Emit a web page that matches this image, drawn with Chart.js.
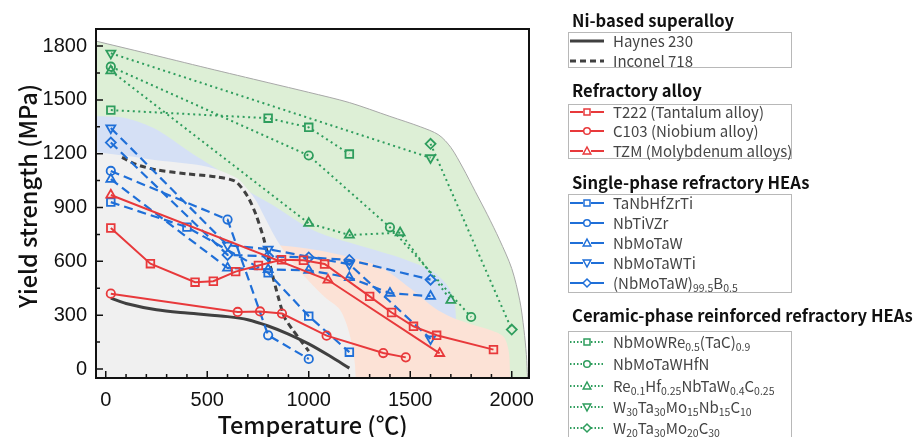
<!DOCTYPE html>
<html>
<head>
<meta charset="utf-8">
<script src="https://cdn.jsdelivr.net/npm/chart.js@4.4.1/dist/chart.umd.min.js"></script>
<style>
  body { margin: 0; background: #fff; }
  #wrap { position: relative; width: 915px; height: 437px; overflow: hidden; }
  #chart { position: absolute; left: 0; top: 0; }
  .ttl { position: absolute; left: 572px; font: bold 16.6px "Noto Sans CJK SC", "Noto Sans", sans-serif; color: #111; white-space: nowrap; line-height: 20px; }
  .box { position: absolute; left: 568px; width: 224px; border: 1px solid #b8b8b8; box-sizing: border-box; }
  .row { position: absolute; left: 613px; font: 15px "Noto Sans CJK SC", "Noto Sans", sans-serif; color: #454545; white-space: nowrap; line-height: 18px; }
  .row sub { font-size: 10.5px; vertical-align: -3px; line-height: 0; }
  .smp { position: absolute; left: 569px; }
</style>
</head>
<body>
<div id="wrap">
  <canvas id="chart" width="915" height="437"></canvas>
  <div id="legend"></div>
</div>
<script>
// axis ticks
const xTicks = [0, 500, 1000, 1500, 2000];
const yTicks = [0, 300, 600, 900, 1200, 1500, 1800];
const yTitle = 'Yield strength (MPa)';

// shaded envelopes (temperature, yield strength)
const greenEnvT = [-50, 200, 500, 800, 1000, 1200, 1400, 1550, 1640, 1700, 1760, 1820, 1880, 1940, 2000, 2040, 2060, 2072, 2078];
const greenEnvY = [1828, 1760, 1677, 1596, 1542, 1485, 1408, 1350, 1305, 1235, 1120, 990, 860, 720, 560, 380, 220, 80, -50];
const blueEnvT = [-50, 100, 250, 420, 580, 660, 750, 842, 950, 1050, 1200, 1350, 1450, 1600, 1680, 1715, 1725, 1725];
const blueEnvY = [1410, 1398, 1335, 1205, 1090, 1020, 960, 900, 820, 760, 705, 655, 620, 550, 470, 380, 290, -50];
const peachEnvT = [700, 850, 1000, 1180, 1350, 1500, 1620, 1700, 1800, 1900, 1960, 1985, 1992];
const peachEnvY = [700, 690, 670, 630, 570, 450, 340, 290, 250, 215, 180, 100, -50];
const grayEnvT = [-50, 100, 250, 500, 645, 700, 745, 790, 842, 908, 1000, 1080, 1154, 1200, 1225, 1232];
const grayEnvY = [1210, 1188, 1163, 1128, 1065, 1000, 930, 830, 720, 610, 490, 400, 330, 200, 50, -50];

// Ni-based superalloy
const haynesT = [25, 100, 250, 400, 600, 700, 800, 900, 1000, 1100, 1200];
const haynesY = [395, 365, 330, 312, 292, 275, 240, 195, 140, 75, 5];
const inconelT = [80, 150, 250, 400, 550, 640, 700, 740, 780, 820, 850, 880, 920, 960, 1000];
const inconelY = [1180, 1140, 1110, 1088, 1070, 1045, 960, 860, 720, 530, 400, 290, 220, 160, 100];

// Refractory alloy
const t222T = [25, 220, 440, 530, 640, 752, 866, 974, 1078, 1300, 1408, 1516, 1630, 1910];
const t222Y = [786, 587, 484, 489, 543, 577, 609, 606, 585, 405, 315, 238, 188, 108];
const c103T = [25, 650, 760, 868, 1088, 1367, 1478];
const c103Y = [420, 318, 321, 309, 186, 89, 65];
const tzmT = [25, 1095, 1645];
const tzmY = [970, 496, 87];

// Single-phase refractory HEAs
const tanbT = [25, 400, 800, 1000, 1200];
const tanbY = [930, 791, 536, 295, 94];
const nbtiT = [25, 600, 800, 1000];
const nbtiY = [1104, 833, 188, 56];
const nbmoT = [25, 600, 800, 1000, 1200, 1400, 1600];
const nbmoY = [1058, 563, 555, 550, 510, 423, 406];
const nbmoTiT = [25, 600, 800, 1200, 1600];
const nbmoTiY = [1343, 690, 668, 584, 168];
const nbmoBT = [25, 600, 800, 1000, 1200, 1600];
const nbmoBY = [1262, 636, 628, 622, 608, 498];

// Ceramic-phase reinforced refractory HEAs
const reTacT = [25, 800, 1000, 1200];
const reTacY = [1443, 1398, 1347, 1198];
const hfnT = [25, 1000, 1400, 1800];
const hfnY = [1685, 1190, 790, 290];
const reHfT = [25, 1000, 1200, 1450, 1700];
const reHfY = [1662, 812, 747, 760, 383];
const w30T = [25, 1600];
const w30Y = [1760, 1177];
const w20T = [1600, 2000];
const w20Y = [1255, 220];

const RED = '#e8393b', BLUE = '#1f6fd8', GREEN = '#2e9d5d', DARK = '#404040';
const pts = (xs, ys) => xs.map((v, i) => ({ x: v, y: ys[i] }));

function region(xs, ys, color, order, edge) {
  return {
    label: '', data: pts(xs, ys), showLine: true, fill: 'start',
    backgroundColor: color, borderColor: edge || 'transparent', borderWidth: edge ? 1 : 0,
    pointRadius: 0, tension: 0.3, order: order
  };
}

const styles = {
  red: { color: RED, dash: [], width: 2 },
  blue: { color: BLUE, dash: [9, 5], width: 2.2 },
  green: { color: GREEN, dash: [2, 3.5], width: 2 }
};
const markers = {
  square: { pointStyle: 'rect', radius: 5.4, rot: 0 },
  circle: { pointStyle: 'circle', radius: 4.2, rot: 0 },
  up: { pointStyle: 'triangle', radius: 5.2, rot: 0 },
  down: { pointStyle: 'triangle', radius: 5.2, rot: 180 },
  diamond: { pointStyle: 'rectRot', radius: 5, rot: 0 }
};

function series(label, xs, ys, kind, mk) {
  const s = styles[kind], m = markers[mk];
  return {
    label: label, data: pts(xs, ys), showLine: true, fill: false,
    borderColor: s.color, borderDash: s.dash, borderWidth: s.width,
    pointStyle: m.pointStyle, pointRadius: m.radius, pointRotation: m.rot,
    pointBorderColor: s.color, pointBackgroundColor: 'rgba(0,0,0,0)', pointBorderWidth: 1.8,
    tension: 0, order: 1
  };
}

const datasets = [
  region(greenEnvT, greenEnvY, '#ddefd6', 10, '#a8a8a8'),
  region(blueEnvT, blueEnvY, '#d5e0f5', 9),
  region(peachEnvT, peachEnvY, '#fce2d6', 8),
  region(grayEnvT, grayEnvY, '#f0f0f0', 7),
  { label: 'Haynes 230', data: pts(haynesT, haynesY), showLine: true, borderColor: DARK, borderWidth: 3, pointRadius: 0, tension: 0.3, order: 2 },
  { label: 'Inconel 718', data: pts(inconelT, inconelY), showLine: true, borderColor: DARK, borderWidth: 3, borderDash: [6, 4], pointRadius: 0, tension: 0.25, order: 2 },
  series('T222 (Tantalum alloy)', t222T, t222Y, 'red', 'square'),
  series('C103 (Niobium alloy)', c103T, c103Y, 'red', 'circle'),
  series('TZM (Molybdenum alloys)', tzmT, tzmY, 'red', 'up'),
  series('TaNbHfZrTi', tanbT, tanbY, 'blue', 'square'),
  series('NbTiVZr', nbtiT, nbtiY, 'blue', 'circle'),
  series('NbMoTaW', nbmoT, nbmoY, 'blue', 'up'),
  series('NbMoTaWTi', nbmoTiT, nbmoTiY, 'blue', 'down'),
  series('(NbMoTaW)99.5B0.5', nbmoBT, nbmoBY, 'blue', 'diamond'),
  series('NbMoWRe0.5(TaC)0.9', reTacT, reTacY, 'green', 'square'),
  series('NbMoTaWHfN', hfnT, hfnY, 'green', 'circle'),
  series('Re0.1Hf0.25NbTaW0.4C0.25', reHfT, reHfY, 'green', 'up'),
  series('W30Ta30Mo15Nb15C10', w30T, w30Y, 'green', 'down'),
  series('W20Ta30Mo20C30', w20T, w20Y, 'green', 'diamond')
];

const tickFont = { family: '"Liberation Sans", Arial, sans-serif', size: 20 };
const titleFont = { family: '"Noto Sans CJK SC", "Noto Sans", sans-serif', size: 23.5, weight: '500' };

// inward ticks, box frame and the y title
const frameTicks = {
  id: 'frameTicks',
  afterDatasetsDraw(chart) {
    const { ctx, chartArea: a, scales: { x, y } } = chart;
    ctx.save();
    ctx.strokeStyle = '#111';
    ctx.lineWidth = 1.5;
    ctx.beginPath();
    for (let v = 0; v <= 2000; v += 100) {
      const px = x.getPixelForValue(v), len = xTicks.includes(v) ? 7 : 4;
      ctx.moveTo(px, a.bottom); ctx.lineTo(px, a.bottom - len);
    }
    for (let v = 0; v <= 1800; v += 150) {
      const py = y.getPixelForValue(v), len = yTicks.includes(v) ? 7 : 4;
      ctx.moveTo(a.left, py); ctx.lineTo(a.left + len, py);
    }
    ctx.stroke();
    ctx.lineWidth = 2;
    ctx.strokeRect(a.left, a.top, a.right - a.left, a.bottom - a.top);
    ctx.restore();
  },
  afterDraw(chart) {
    const ctx = chart.ctx;
    ctx.save();
    ctx.translate(28, 196);
    ctx.rotate(-Math.PI / 2);
    ctx.font = `500 ${titleFont.size}px ${titleFont.family}`;
    ctx.fillStyle = '#111';
    ctx.textAlign = 'center';
    ctx.textBaseline = 'middle';
    ctx.fillText(yTitle, 0, 0);
    ctx.restore();
  }
};

new Chart(document.getElementById('chart'), {
  type: 'scatter',
  data: { datasets: datasets },
  options: {
    responsive: false,
    animation: false,
    devicePixelRatio: 1,
    layout: { padding: { top: 29, right: 386, left: 0, bottom: 0 } },
    plugins: { legend: { display: false }, tooltip: { enabled: false } },
    scales: {
      x: {
        type: 'linear', min: -48, max: 2085,
        afterBuildTicks: s => { s.ticks = xTicks.map(v => ({ value: v })); },
        afterFit: s => { s.height = 59; },
        grid: { display: false, drawTicks: false }, border: { display: false },
        ticks: { font: tickFont, color: '#111', padding: 10, maxRotation: 0, callback: v => String(v) },
        title: { display: true, text: 'Temperature (℃)', font: titleFont, color: '#111', padding: { top: 0, bottom: -2 } }
      },
      y: {
        type: 'linear', min: -50, max: 1895,
        afterBuildTicks: s => { s.ticks = yTicks.map(v => ({ value: v })); },
        afterFit: s => { s.width = 96; },
        grid: { display: false, drawTicks: false }, border: { display: false },
        ticks: { font: tickFont, color: '#111', padding: 9, callback: v => String(v) },
        title: { display: false }
      }
    }
  },
  plugins: [frameTicks]
});

// grouped legend (HTML)
const groupTitles = ['Ni-based superalloy', 'Refractory alloy', 'Single-phase refractory HEAs', 'Ceramic-phase reinforced refractory HEAs'];
const legendNames = [
  ['Haynes 230', 'Inconel 718'],
  ['T222 (Tantalum alloy)', 'C103 (Niobium alloy)', 'TZM (Molybdenum alloys)'],
  ['TaNbHfZrTi', 'NbTiVZr', 'NbMoTaW', 'NbMoTaWTi', '(NbMoTaW)<sub>99.5</sub>B<sub>0.5</sub>'],
  ['NbMoWRe<sub>0.5</sub>(TaC)<sub>0.9</sub>', 'NbMoTaWHfN', 'Re<sub>0.1</sub>Hf<sub>0.25</sub>NbTaW<sub>0.4</sub>C<sub>0.25</sub>',
   'W<sub>30</sub>Ta<sub>30</sub>Mo<sub>15</sub>Nb<sub>15</sub>C<sub>10</sub>', 'W<sub>20</sub>Ta<sub>30</sub>Mo<sub>20</sub>C<sub>30</sub>']
];
const legendKinds = [null, 'red', 'blue', 'green'];
const legendMarks = ['square', 'circle', 'up', 'down', 'diamond'];
const legendLayout = [
  { titleY: 20, boxTop: 32, boxBottom: 68, rowY: [41, 61] },
  { titleY: 90, boxTop: 104, boxBottom: 159, rowY: [112, 131, 151] },
  { titleY: 182, boxTop: 194, boxBottom: 293, rowY: [203, 223, 243, 263, 283] },
  { titleY: 315, boxTop: 331, boxBottom: 450, rowY: [342, 364, 386, 407, 428] }
];

function markerSvg(mk, c) {
  const a = `fill="#fff" stroke="${c}" stroke-width="1.5"`;
  if (mk === 'square') return `<rect x="15" y="4" width="6" height="6" ${a}/>`;
  if (mk === 'circle') return `<circle cx="18" cy="7" r="3.3" ${a}/>`;
  if (mk === 'up') return `<polygon points="18,3 21.8,10 14.2,10" ${a}/>`;
  if (mk === 'down') return `<polygon points="18,11 21.8,4 14.2,4" ${a}/>`;
  return `<polygon points="18,3 22,7 18,11 14,7" ${a}/>`;
}

function sampleSvg(g, i) {
  let body;
  if (g === 0) {
    const dash = i === 1 ? 'stroke-dasharray="6,4"' : '';
    body = `<line x1="1" y1="7" x2="35" y2="7" stroke="${DARK}" stroke-width="3" ${dash}/>`;
  } else {
    const s = styles[legendKinds[g]];
    const dash = g === 3 ? 'stroke-dasharray="1.5,2"' : '';
    body = `<line x1="1" y1="7" x2="14" y2="7" stroke="${s.color}" stroke-width="2" ${dash}/>` +
           `<line x1="22" y1="7" x2="35" y2="7" stroke="${s.color}" stroke-width="2" ${dash}/>` +
           markerSvg(legendMarks[i], s.color);
  }
  return `<svg width="37" height="14">${body}</svg>`;
}

let html = '';
legendLayout.forEach((L, g) => {
  html += `<div class="ttl" style="top:${L.titleY - 10}px">${groupTitles[g]}</div>`;
  html += `<div class="box" style="top:${L.boxTop}px;height:${L.boxBottom - L.boxTop}px"></div>`;
  legendNames[g].forEach((name, i) => {
    const cy = L.rowY[i];
    html += `<div class="smp" style="top:${cy - 7}px">${sampleSvg(g, i)}</div>`;
    html += `<div class="row" style="top:${cy - 9}px">${name}</div>`;
  });
});
document.getElementById('legend').innerHTML = html;
</script>
</body>
</html>
